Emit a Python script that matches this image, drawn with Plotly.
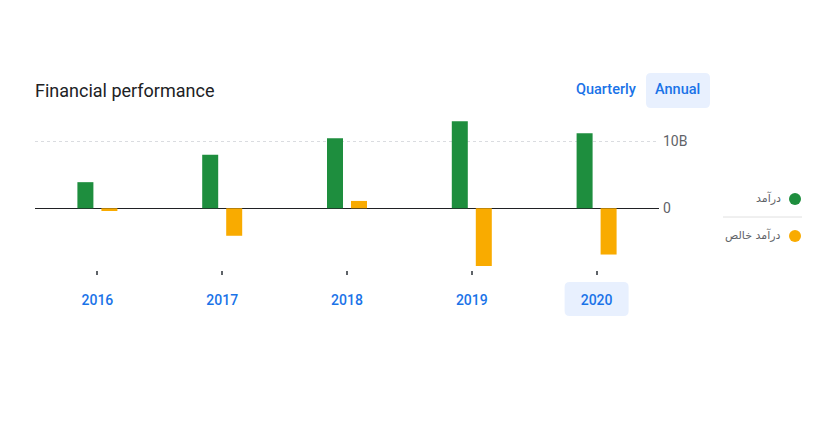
import plotly.graph_objects as go

# ---- data (billions) ----
years = ["2016", "2017", "2018", "2019", "2020"]
revenue = [3.9, 8.0, 10.45, 13.0, 11.2]
net_income = [-0.4, -4.1, 1.1, -8.6, -6.9]
series_names = ["درآمد", "درآمد خالص"]
y_tickvals = [0, 10]
y_ticktext = ["0", "10B"]

GREEN = "#1e8e3e"
ORANGE = "#f9ab00"
BLUE = "#1a73e8"
GRAY = "#5f6368"

W, H = 836, 425
L, R, T, B = 35, 659, 115, 270  # plot area in pixels


def px2x(px):
    return (px - L) / (R - L)


def py2y(py):
    return (B - py) / (B - T)


fig = go.Figure()
fig.add_trace(go.Bar(x=years, y=revenue, name=series_names[0], marker_color=GREEN,
                     marker_line_width=0))
fig.add_trace(go.Bar(x=years, y=net_income, name=series_names[1], marker_color=ORANGE,
                     marker_line_width=0))

zero_py, ten_py = 208.3, 141.3
ppb = (zero_py - ten_py) / 10.0
y_top = (zero_py - T) / ppb
y_bot = -(B - zero_py) / ppb


def rounded(x0, y0, x1, y1, r):
    # pixel path (y upward)
    return (f"M {x0+r},{y0} L {x1-r},{y0} Q {x1},{y0} {x1},{y0+r} "
            f"L {x1},{y1-r} Q {x1},{y1} {x1-r},{y1} L {x0+r},{y1} "
            f"Q {x0},{y1} {x0},{y1-r} L {x0},{y0+r} Q {x0},{y0} {x0+r},{y0} Z")


sel = len(years) - 1
shapes = []
# highlight behind selected year
shapes.append(dict(type="path", xref="paper", yref="paper", xsizemode="pixel", ysizemode="pixel",
                   xanchor=(sel + 0.5) / len(years), yanchor=0,
                   path=rounded(-32, -46, 32, -12, 5),
                   fillcolor="#e8f0fe", line_width=0, layer="below"))
# Annual button
shapes.append(dict(type="path", xref="paper", yref="paper", xsizemode="pixel", ysizemode="pixel",
                   xanchor=px2x(646), yanchor=py2y(108),
                   path=rounded(0, 0, 64, 35, 5),
                   fillcolor="#e8f0fe", line_width=0, layer="below"))
# legend circles
for cy, col in [(199, GREEN), (236, ORANGE)]:
    shapes.append(dict(type="circle", xref="paper", yref="paper", xsizemode="pixel",
                       ysizemode="pixel", xanchor=px2x(795), yanchor=py2y(cy),
                       x0=-6, x1=6, y0=-6, y1=6, fillcolor=col, line_width=0))
# legend separator
shapes.append(dict(type="line", xref="paper", yref="paper", x0=px2x(723), x1=px2x(802),
                   y0=py2y(217), y1=py2y(217), line=dict(color="#e0e0e0", width=1)))

annotations = [
    dict(text="Quarterly", xref="paper", yref="paper", x=px2x(606), y=py2y(90),
         xanchor="center", yanchor="middle", showarrow=False,
         font=dict(family="Roboto", size=14.5, color=BLUE, weight=500)),
    dict(text="Annual", xref="paper", yref="paper", x=px2x(678), y=py2y(90),
         xanchor="center", yanchor="middle", showarrow=False,
         font=dict(family="Roboto", size=14.5, color=BLUE, weight=500)),
    dict(text=series_names[0], xref="paper", yref="paper", x=px2x(783), y=py2y(198),
         xanchor="right", yanchor="middle", showarrow=False,
         font=dict(family="DejaVu Sans", size=11, color=GRAY)),
    dict(text=series_names[1], xref="paper", yref="paper", x=px2x(783), y=py2y(235),
         xanchor="right", yanchor="middle", showarrow=False,
         font=dict(family="DejaVu Sans", size=11, color=GRAY)),
]

fig.update_layout(
    width=W, height=H,
    margin=dict(l=L, r=W - R, t=T, b=H - B, pad=0),
    paper_bgcolor="white", plot_bgcolor="white",
    showlegend=False,
    barmode="group",
    bargap=1 - 48 * len(years) / (R - L),
    bargroupgap=1 / 3,
    title=dict(text="Financial performance", x=35 / W, xref="container", xanchor="left",
               y=1 - 91 / H, yref="container", yanchor="middle",
               font=dict(family="Roboto", size=18, color="#202124")),
    shapes=shapes,
    annotations=annotations,
    font=dict(family="Roboto"),
)
fig.update_xaxes(type="category", range=[-0.5, len(years) - 0.5],
                 showgrid=False, showline=False, zeroline=False,
                 ticks="outside", ticklen=4, tickwidth=2, tickcolor=GRAY,
                 ticklabelstandoff=13,
                 tickfont=dict(family="Roboto", size=14, color=BLUE, weight=500),
                 fixedrange=True)
fig.update_yaxes(side="right", range=[y_bot, y_top], tickvals=y_tickvals, ticktext=y_ticktext,
                 showgrid=True, gridcolor="#dadce0", griddash="3px,3px", gridwidth=1,
                 zeroline=True, zerolinecolor="#202124", zerolinewidth=1,
                 showline=False, ticks="", ticklabelstandoff=3,
                 tickfont=dict(family="Roboto", size=14, color=GRAY),
                 fixedrange=True)

fig.write_html("out.html")
